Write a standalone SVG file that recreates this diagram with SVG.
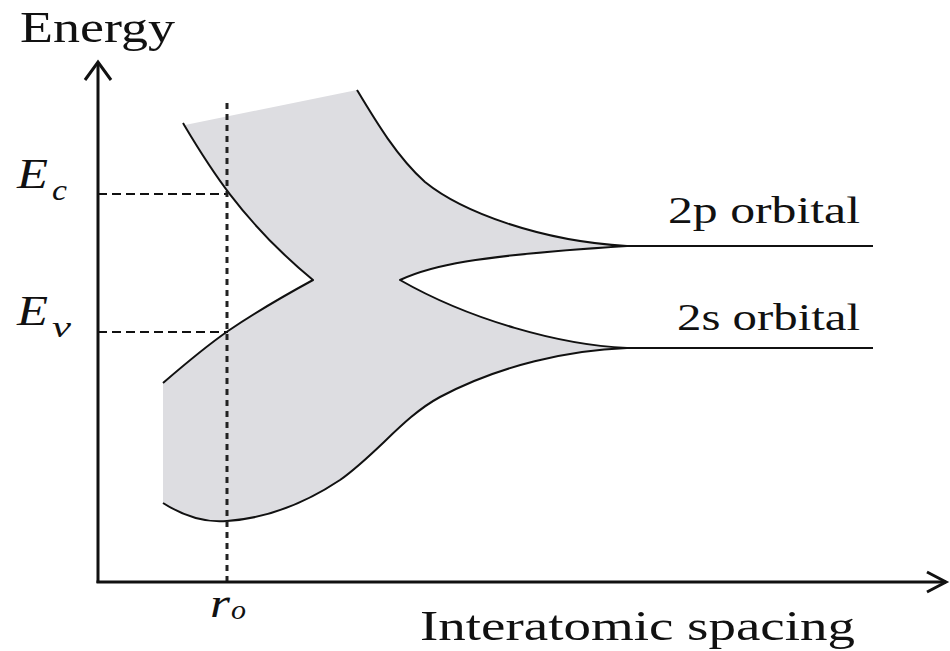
<svg xmlns="http://www.w3.org/2000/svg" width="950" height="651" viewBox="0 0 950 651">
<style>
text{font-family:'Liberation Serif','Times New Roman',serif;fill:#111}
.it{font-style:italic}
.curve{fill:none;stroke:#111;stroke-width:2;stroke-linejoin:round}
.axis{fill:none;stroke:#111;stroke-width:3}
.dash{fill:none;stroke:#111;stroke-width:2;stroke-dasharray:9,5}
.dot{fill:none;stroke:#222;stroke-width:3;stroke-dasharray:6,5}
</style>
<rect width="950" height="651" fill="#fff"/>
<g id="bands">
<path d="M185,125 C207,160 240,220 313,280 C280,298 250,316 228,331 C205,347 185,364 163,383 L163,503 C185,517 205,523 227,521 C270,518 310,500 340,480 C378,453 403,417 440,397 C500,365 570,350 627,348 C560,345 470,320 400,280 C430,266 470,256 627,246 C540,241 462,212 425,182 C397,157 375,120 357,90 Z" fill="#dddde1"/>
<path class="curve" d="M183,123 C205,160 240,220 313,280 C280,298 250,316 228,331 C205,347 185,364 163,383"/>
<path class="curve" d="M163,503 C185,517 205,523 227,521 C270,518 310,500 340,480 C378,453 403,417 440,397 C500,365 570,350 627,348 L873,348"/>
<path class="curve" d="M873,246 L627,246 C540,241 462,212 425,182 C397,157 375,120 357,90"/>
<path class="curve" d="M627,348 C560,345 470,320 400,280 C430,266 470,256 627,246"/>
</g>
<g id="guides">
<line class="dash" x1="98" y1="194" x2="228" y2="194"/>
<line class="dash" x1="98" y1="332" x2="228" y2="332"/>
<line class="dot" x1="227" y1="103" x2="227" y2="582"/>
</g>
<g id="axes">
<line class="axis" x1="98" y1="62" x2="98" y2="583"/>
<line class="axis" x1="96.5" y1="582" x2="946" y2="582"/>
<polyline class="axis" points="85,80 98,62 111,80"/>
<polyline class="axis" points="927,572 946,582 927,592"/>
</g>
<g id="labels" font-family="'Liberation Serif', serif">
<text x="20" y="42" font-size="44" textLength="155" lengthAdjust="spacingAndGlyphs">Energy</text>
<text class="it" x="17" y="188" font-size="42" textLength="31" lengthAdjust="spacingAndGlyphs">E</text>
<text class="it" x="52" y="200" font-size="30" textLength="15" lengthAdjust="spacingAndGlyphs">c</text>
<text class="it" x="17" y="325" font-size="42" textLength="31" lengthAdjust="spacingAndGlyphs">E</text>
<text class="it" x="52" y="337" font-size="30" textLength="19" lengthAdjust="spacingAndGlyphs">v</text>
<text x="668" y="223" font-size="37" textLength="192" lengthAdjust="spacingAndGlyphs">2p orbital</text>
<text x="677" y="330" font-size="37" textLength="183" lengthAdjust="spacingAndGlyphs">2s orbital</text>
<text class="it" x="210" y="617" font-size="42" textLength="20" lengthAdjust="spacingAndGlyphs">r</text>
<text class="it" x="231" y="619" font-size="28" textLength="15" lengthAdjust="spacingAndGlyphs">o</text>
<text x="420" y="640" font-size="43" textLength="435" lengthAdjust="spacingAndGlyphs">Interatomic spacing</text>
</g>
</svg>
